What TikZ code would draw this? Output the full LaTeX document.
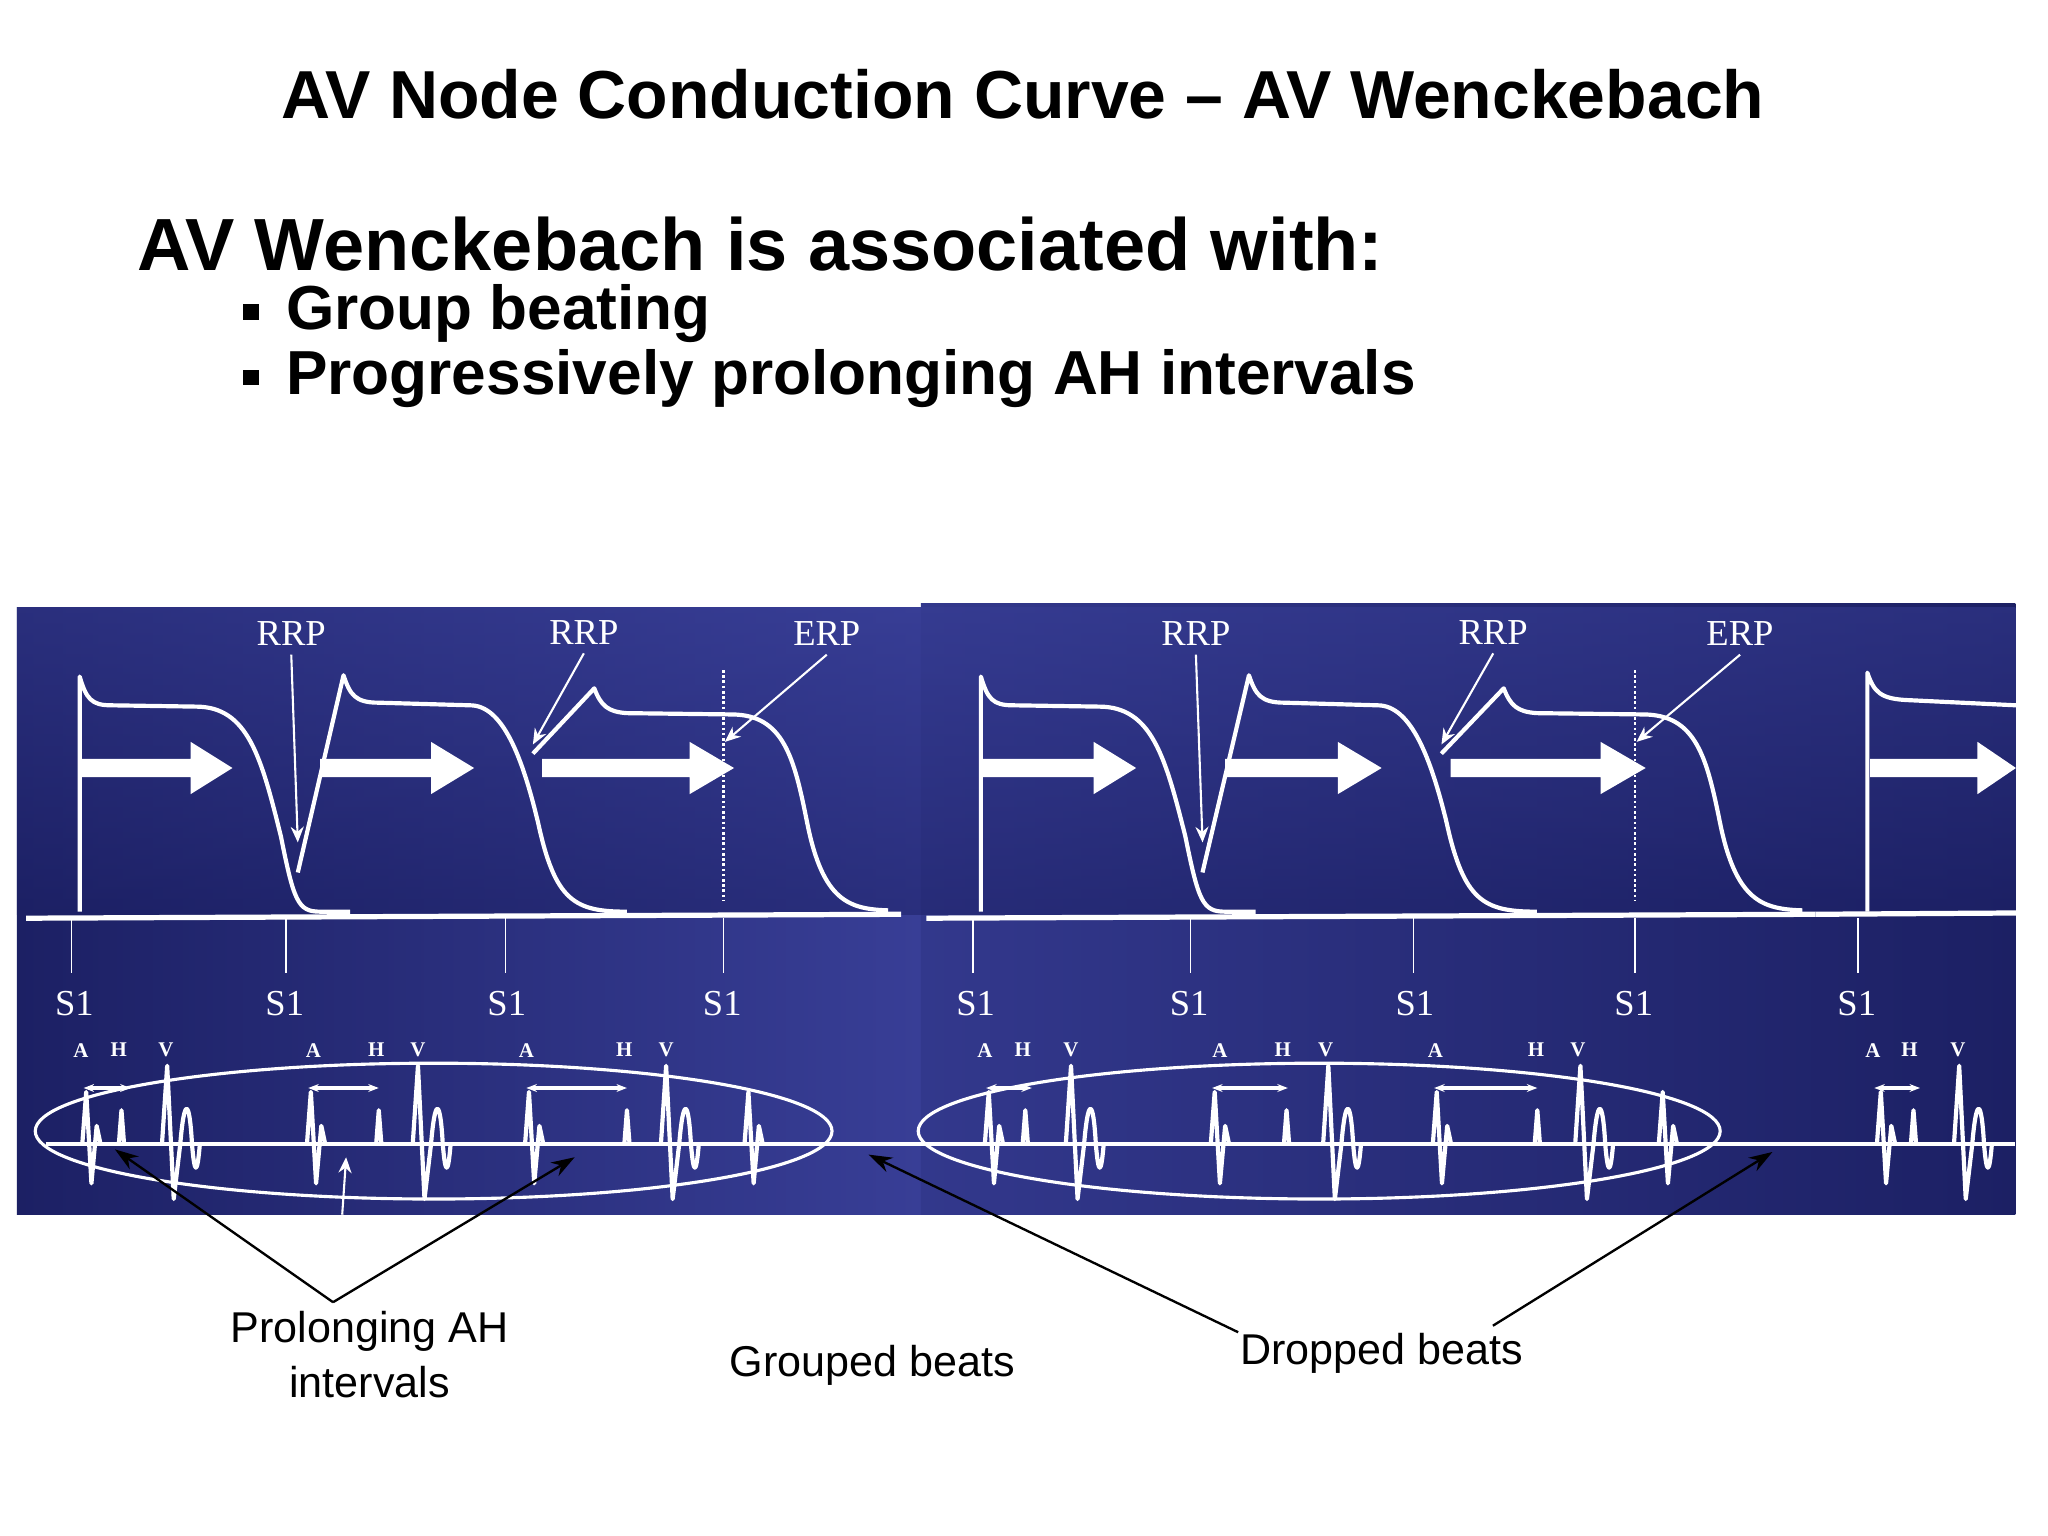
\documentclass[tikz,border=0pt]{standalone}
\usepackage{fontspec}
\setmainfont{Liberation Serif}
\setsansfont{Liberation Sans}
\usetikzlibrary{arrows.meta}
\definecolor{pdark}{RGB}{28,32,100}
\definecolor{plight}{RGB}{56,62,150}
\tikzset{
  wl/.style={white,line width=1.6pt,line join=round},
  thinw/.style={white,line width=0.5pt},
  lab/.style={white,font=\fontsize{14}{14}\selectfont},
  ahv/.style={white,font=\bfseries\fontsize{8}{8}\selectfont},
  blk/.style={black,line width=0.9pt,-{Stealth[length=9pt,width=6pt]}},
  wa/.style={white,line width=0.8pt,-{Stealth[length=6pt,width=5pt]}},
  dbl/.style={white,line width=1.3pt,{Stealth[length=4pt]}-{Stealth[length=4pt]}},
  captxt/.style={font=\sffamily\fontsize{16.5}{21}\selectfont,align=center}
}
\newcommand{\bigarr}[3]{\fill[white] (#1,581)--(#2,581)--(#2,568)--(#3,588)--(#2,608)--(#2,595)--(#1,595)--cycle;}
\newcommand{\Aw}[1]{\draw[wl] (#1-3,876)--(#1,836)--(#1+4,906)--(#1+8,862)--(#1+11,876);}
\newcommand{\Hw}[1]{\draw[wl] (#1-2,876)--(#1,850)--(#1+2,876);}
\newcommand{\Vw}[1]{\draw[wl] (#1-4,876)--(#1,816)--(#1+5,918)--(#1+10,876) .. controls (#1+13,840) and (#1+17,840) .. (#1+19,876) .. controls (#1+21,900) and (#1+23,900) .. (#1+25,876);}
\newcommand{\panelcontent}{
  \draw[white,line width=2pt] (20,703)--(690,700);
  \foreach \t in {55,219,387,554} \draw[thinw] (\t,703)--(\t,745);
  \draw[wl] (61,698) -- (61,518) .. controls (66,535) and (70,540) .. (85,540) -- (150,541) .. controls (190,541) and (200,580) .. (215,640) .. controls (225,690) and (228,698) .. (245,698) -- (268,698);
  \draw[wl] (228,668) -- (263,517) .. controls (268,532) and (272,538) .. (290,538) -- (360,540) .. controls (385,540) and (400,580) .. (412,630) .. controls (425,690) and (440,698) .. (480,698);
  \draw[wl] (408,577) -- (455,527) .. controls (460,540) and (465,545) .. (480,546) -- (560,547) .. controls (600,547) and (608,580) .. (618,630) .. controls (630,690) and (650,696) .. (680,697);
  \draw[white,line width=1pt,densely dotted] (554,513)--(554,690);
  \bigarr{62}{146}{178}\bigarr{245}{330}{363}\bigarr{415}{528}{562}
  \node[lab] (r1) at (223,485) {RRP};
  \node[lab] (r2) at (447,484) {RRP};
  \node[lab] (e1) at (633,485) {ERP};
  \coordinate (r1t) at (228,645); \coordinate (r2t) at (408,570); \coordinate (e1t) at (555,568);
  \draw[wa] (r1.south) -- (r1t); \draw[wa] (r2.south) -- (r2t); \draw[wa] (e1.south) -- (e1t);
  \foreach \x/\sx in {57/a,218/b,388/c,553/d} \node[lab] (s\sx) at (\x,768) {S1};
}
\begin{document}
\begin{tikzpicture}[x=0.5pt,y=-0.5pt]
\useasboundingbox (0,0) rectangle (1568,1176);
\fill[white] (0,0) rectangle (1568,1176);
\node[font=\sffamily\bfseries\fontsize{26}{26}\selectfont] (title) at (783,72) {AV Node Conduction Curve – AV Wenckebach};
\node[font=\sffamily\bfseries\fontsize{28.3}{28.3}\selectfont,anchor=west] (sub) at (98,187) {AV Wenckebach is associated with:};
\node[font=\sffamily\bfseries\fontsize{23.8}{23.8}\selectfont,anchor=west] (b1) at (212,240) {Group beating};
\node[font=\sffamily\bfseries\fontsize{23.8}{23.8}\selectfont,anchor=west] (b2) at (212,290) {Progressively prolonging AH intervals};
\fill (186,233) rectangle (198,245);
\fill (186,283) rectangle (198,295);
% panels
\shade[left color=pdark,right color=plight] (13,465) rectangle (705,930);
\shade[left color=plight!80!pdark,right color=pdark] (705,462) rectangle (1543,930);
\shade[top color=plight,bottom color=pdark,opacity=0.5] (13,465) rectangle (1543,700);
\panelcontent
\begin{scope}[shift={(689,0)},xscale=1.016]
\panelcontent
\draw[wl] (729,698)--(729,515) .. controls (734,530) and (739,535) .. (759,536) -- (841,540);
\bigarr{731}{812}{841}
\draw[thinw] (722,703)--(722,745);
\node[lab] at (721,768) {S1};
\draw[white,line width=2pt] (690,700)--(841,699);
\end{scope}
% EGM baseline
\draw[wl] (35,876)--(1543,876);
\foreach \a/\h/\v in {66/93/128,238/290/320,405/480/510,757/785/820,930/985/1017,1100/1177/1210,1440/1465/1500} {\Aw{\a}\Hw{\h}\Vw{\v}}
\Aw{573}\Aw{1273}
\foreach \a/\h/\v in {62/91/127,240/288/320,403/478/510,754/783/820,934/982/1015,1099/1176/1208,1434/1462/1499} {
  \node[ahv] at (\a,804) {A}; \node[ahv] at (\h,804) {H}; \node[ahv] at (\v,804) {V};}
\draw[dbl] (64,833)--(100,833);
\draw[dbl] (236,833)--(290,833);
\draw[dbl] (403,833)--(480,833);
\draw[dbl] (755,833)--(790,833);
\draw[dbl] (928,833)--(986,833);
\draw[dbl] (1098,833)--(1177,833);
\draw[dbl] (1435,833)--(1470,833);
\draw[white,line width=1.2pt] (332,866) ellipse [x radius=305,y radius=52];
\draw[white,line width=1.2pt] (1010,866) ellipse [x radius=307,y radius=52];
\coordinate (wt) at (265,886);
\draw[wa] (262,930)--(wt);
% captions
\node[captxt] (pah) at (283,1037) {Prolonging AH\\intervals};
\node[captxt] (gb) at (668,1045) {Grouped beats};
\node[captxt] (db) at (1058,1036) {Dropped beats};
\coordinate (p1) at (88,880); \coordinate (p2) at (440,886);
\coordinate (d1) at (665,884); \coordinate (d2) at (1357,882);
\draw[blk] (255,997)--(p1);
\draw[blk] (255,997)--(p2);
\draw[blk] (948,1020)--(d1);
\draw[blk] (1143,1015)--(d2);
\end{tikzpicture}
\end{document}
